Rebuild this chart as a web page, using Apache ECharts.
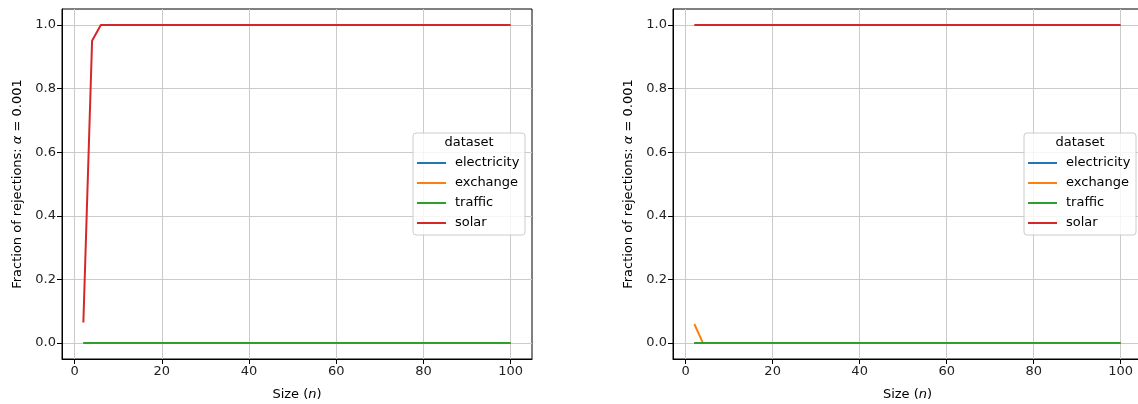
<!DOCTYPE html>
<html>
<head>
<meta charset="utf-8">
<script src="https://cdn.jsdelivr.net/npm/echarts@6/dist/echarts.min.js"></script>
<style>
  html, body { margin: 0; padding: 0; background: #fff; }
  #main { width: 1138px; height: 404px; }
</style>
</head>
<body>
<div id="main"></div>
<script>
// sample sizes n
var sizes = [2, 4, 6, 8, 10, 12, 14, 16, 18, 20, 22, 24, 26, 28, 30, 32, 34, 36, 38, 40,
             42, 44, 46, 48, 50, 52, 54, 56, 58, 60, 62, 64, 66, 68, 70, 72, 74, 76, 78, 80,
             82, 84, 86, 88, 90, 92, 94, 96, 98, 100];
var datasets = ['electricity', 'exchange', 'traffic', 'solar'];
var colors = ['#1f77b4', '#ff7f0e', '#2ca02c', '#d62728'];
var xTicks = [0, 20, 40, 60, 80, 100];
var yTicks = [0, 0.2, 0.4, 0.6, 0.8, 1.0];

// 左图
var leftElectricity = [0, 0, 0, 0, 0, 0, 0, 0, 0, 0, 0, 0, 0, 0, 0, 0, 0, 0, 0, 0, 0, 0, 0, 0, 0,
                       0, 0, 0, 0, 0, 0, 0, 0, 0, 0, 0, 0, 0, 0, 0, 0, 0, 0, 0, 0, 0, 0, 0, 0, 0];
var leftExchange = [0, 0, 0, 0, 0, 0, 0, 0, 0, 0, 0, 0, 0, 0, 0, 0, 0, 0, 0, 0, 0, 0, 0, 0, 0,
                    0, 0, 0, 0, 0, 0, 0, 0, 0, 0, 0, 0, 0, 0, 0, 0, 0, 0, 0, 0, 0, 0, 0, 0, 0];
var leftTraffic = [0, 0, 0, 0, 0, 0, 0, 0, 0, 0, 0, 0, 0, 0, 0, 0, 0, 0, 0, 0, 0, 0, 0, 0, 0,
                   0, 0, 0, 0, 0, 0, 0, 0, 0, 0, 0, 0, 0, 0, 0, 0, 0, 0, 0, 0, 0, 0, 0, 0, 0];
var leftSolar = [0.065, 0.95, 1, 1, 1, 1, 1, 1, 1, 1, 1, 1, 1, 1, 1, 1, 1, 1, 1, 1, 1, 1, 1, 1, 1,
                 1, 1, 1, 1, 1, 1, 1, 1, 1, 1, 1, 1, 1, 1, 1, 1, 1, 1, 1, 1, 1, 1, 1, 1, 1];

// 右图
var rightElectricity = [0, 0, 0, 0, 0, 0, 0, 0, 0, 0, 0, 0, 0, 0, 0, 0, 0, 0, 0, 0, 0, 0, 0, 0, 0,
                        0, 0, 0, 0, 0, 0, 0, 0, 0, 0, 0, 0, 0, 0, 0, 0, 0, 0, 0, 0, 0, 0, 0, 0, 0];
var rightExchange = [0.06, 0, 0, 0, 0, 0, 0, 0, 0, 0, 0, 0, 0, 0, 0, 0, 0, 0, 0, 0, 0, 0, 0, 0, 0,
                     0, 0, 0, 0, 0, 0, 0, 0, 0, 0, 0, 0, 0, 0, 0, 0, 0, 0, 0, 0, 0, 0, 0, 0, 0];
var rightTraffic = [0, 0, 0, 0, 0, 0, 0, 0, 0, 0, 0, 0, 0, 0, 0, 0, 0, 0, 0, 0, 0, 0, 0, 0, 0,
                    0, 0, 0, 0, 0, 0, 0, 0, 0, 0, 0, 0, 0, 0, 0, 0, 0, 0, 0, 0, 0, 0, 0, 0, 0];
var rightSolar = [1, 1, 1, 1, 1, 1, 1, 1, 1, 1, 1, 1, 1, 1, 1, 1, 1, 1, 1, 1, 1, 1, 1, 1, 1,
                  1, 1, 1, 1, 1, 1, 1, 1, 1, 1, 1, 1, 1, 1, 1, 1, 1, 1, 1, 1, 1, 1, 1, 1, 1];

var leftValues = [leftElectricity, leftExchange, leftTraffic, leftSolar];
var rightValues = [rightElectricity, rightExchange, rightTraffic, rightSolar];

var FONT = 'DejaVu Sans';

function pairs(vals) {
    return sizes.map(function (n, i) { return [n, vals[i]]; });
}

function xAxisFor(idx) {
    return {
        type: 'value', gridIndex: idx, min: -2.9, max: 104.9,
        name: 'Size ({i|n})', nameLocation: 'middle', nameGap: 29,
        nameTextStyle: { fontFamily: FONT, fontSize: 13, color: '#000',
            rich: { i: { fontFamily: FONT, fontSize: 13, fontStyle: 'italic', color: '#000' } } },
        axisLine: { show: true, onZero: false, lineStyle: { color: '#000', width: 1 } },
        axisTick: { show: true, length: 5, customValues: xTicks, lineStyle: { color: '#000' } },
        axisLabel: { customValues: xTicks, color: '#222', fontFamily: FONT, fontSize: 13, margin: 6 },
        splitLine: { show: true, lineStyle: { color: '#cbcbcb', width: 1 } }
    };
}

function yAxisFor(idx) {
    return {
        type: 'value', gridIndex: idx, min: -0.05, max: 1.05,
        name: 'Fraction of rejections: {i|α} = 0.001', nameLocation: 'middle', nameGap: 38,
        nameRotate: 90,
        nameTextStyle: { fontFamily: FONT, fontSize: 13, color: '#000',
            rich: { i: { fontFamily: FONT, fontSize: 13, fontStyle: 'italic', color: '#000' } } },
        axisLine: { show: true, onZero: false, lineStyle: { color: '#000', width: 1 } },
        axisTick: { show: true, length: 5, customValues: yTicks, lineStyle: { color: '#000' } },
        axisLabel: { customValues: yTicks, color: '#222', fontFamily: FONT, fontSize: 13, margin: 6,
            formatter: function (v) { return v.toFixed(1); } },
        splitLine: { show: true, lineStyle: { color: '#cbcbcb', width: 1 } }
    };
}

function legendFor(left) {
    return {
        orient: 'vertical', left: left, top: 148, itemGap: 0,
        itemWidth: 29, itemHeight: 2, icon: 'rect',
        data: datasets,
        selectedMode: false,
        textStyle: { fontFamily: FONT, fontSize: 13, color: '#000', lineHeight: 20, padding: [0, 0, 0, 4] }
    };
}

function legendBox(x, y, w, h) {
    return [
        { type: 'rect', z: 3, shape: { x: x, y: y, width: w, height: h, r: 3 },
          style: { fill: 'rgba(255,255,255,0.8)', stroke: '#cccccc', lineWidth: 1 } },
        { type: 'text', z: 5, x: x + w / 2, y: y + 10,
          style: { text: 'dataset', fontFamily: FONT, fontSize: 13, fill: '#000', align: 'center', verticalAlign: 'middle' } }
    ];
}

var series = [];
datasets.forEach(function (name, i) {
    series.push({ name: name, type: 'line', xAxisIndex: 0, yAxisIndex: 0, data: pairs(leftValues[i]),
        showSymbol: false, color: colors[i], lineStyle: { width: 2 }, z: 2 + i * 0.01 });
});
datasets.forEach(function (name, i) {
    series.push({ name: name, type: 'line', xAxisIndex: 1, yAxisIndex: 1, data: pairs(rightValues[i]),
        showSymbol: false, color: colors[i], lineStyle: { width: 2 }, z: 2 + i * 0.01 });
});

var myChart = echarts.init(document.getElementById('main'));
var option = {
    animation: false,
    backgroundColor: '#fff',
    grid: [
        { left: 62, right: 606, top: 9, bottom: 45, outerBoundsMode: 'none', show: true, borderColor: '#000', borderWidth: 1, backgroundColor: 'transparent' },
        { left: 673, width: 469, top: 9, bottom: 45, outerBoundsMode: 'none', show: true, borderColor: '#000', borderWidth: 1, backgroundColor: 'transparent' }
    ],
    xAxis: [xAxisFor(0), xAxisFor(1)],
    yAxis: [yAxisFor(0), yAxisFor(1)],
    legend: [legendFor(412), legendFor(1023)],
    graphic: legendBox(413, 133, 112, 102).concat(legendBox(1024, 133, 112, 102)),
    series: series
};
myChart.setOption(option);
</script>
</body>
</html>
